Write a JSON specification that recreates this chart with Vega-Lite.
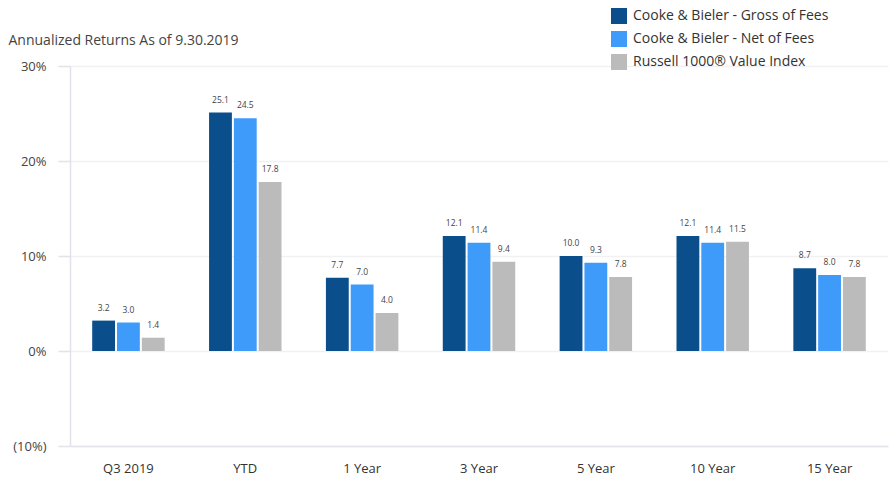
{
  "$schema": "https://vega.github.io/schema/vega-lite/v6.json",
  "width": 818,
  "height": 380,
  "autosize": "none",
  "padding": {"left": 70, "top": 66, "right": 2, "bottom": 32},
  "background": "white",
  "config": {
    "font": "Open Sans",
    "view": {"stroke": null}
  },
  "data": {
    "values": [
      {"period": "Q3 2019", "series": "Cooke & Bieler - Gross of Fees", "value": 3.2},
      {"period": "Q3 2019", "series": "Cooke & Bieler - Net of Fees", "value": 3.0},
      {"period": "Q3 2019", "series": "Russell 1000® Value Index", "value": 1.4},
      {"period": "YTD", "series": "Cooke & Bieler - Gross of Fees", "value": 25.1},
      {"period": "YTD", "series": "Cooke & Bieler - Net of Fees", "value": 24.5},
      {"period": "YTD", "series": "Russell 1000® Value Index", "value": 17.8},
      {"period": "1 Year", "series": "Cooke & Bieler - Gross of Fees", "value": 7.7},
      {"period": "1 Year", "series": "Cooke & Bieler - Net of Fees", "value": 7.0},
      {"period": "1 Year", "series": "Russell 1000® Value Index", "value": 4.0},
      {"period": "3 Year", "series": "Cooke & Bieler - Gross of Fees", "value": 12.1},
      {"period": "3 Year", "series": "Cooke & Bieler - Net of Fees", "value": 11.4},
      {"period": "3 Year", "series": "Russell 1000® Value Index", "value": 9.4},
      {"period": "5 Year", "series": "Cooke & Bieler - Gross of Fees", "value": 10.0},
      {"period": "5 Year", "series": "Cooke & Bieler - Net of Fees", "value": 9.3},
      {"period": "5 Year", "series": "Russell 1000® Value Index", "value": 7.8},
      {"period": "10 Year", "series": "Cooke & Bieler - Gross of Fees", "value": 12.1},
      {"period": "10 Year", "series": "Cooke & Bieler - Net of Fees", "value": 11.4},
      {"period": "10 Year", "series": "Russell 1000® Value Index", "value": 11.5},
      {"period": "15 Year", "series": "Cooke & Bieler - Gross of Fees", "value": 8.7},
      {"period": "15 Year", "series": "Cooke & Bieler - Net of Fees", "value": 8.0},
      {"period": "15 Year", "series": "Russell 1000® Value Index", "value": 7.8}
    ]
  },
  "encoding": {
    "x": {
      "field": "period",
      "type": "nominal",
      "sort": ["Q3 2019", "YTD", "1 Year", "3 Year", "5 Year", "10 Year", "15 Year"],
      "scale": {"paddingInner": 0.38, "paddingOuter": 0.19},
      "axis": {
        "title": null,
        "labelAngle": 0,
        "ticks": false,
        "domain": true,
        "domainColor": "#e2e2ea",
        "domainWidth": 1.5,
        "labelFontSize": 13,
        "labelColor": "#333333",
        "labelPadding": 16,
        "labelFont": "Open Sans"
      }
    },
    "xOffset": {
      "field": "series",
      "type": "nominal",
      "scale": {"paddingInner": 0.08}
    },
    "y": {
      "field": "value",
      "type": "quantitative",
      "scale": {"domain": [-10, 30], "nice": false},
      "axis": {
        "title": "Annualized Returns As of 9.30.2019",
        "titleAngle": 0,
        "titleX": -62,
        "titleY": -22,
        "titleAlign": "left",
        "titleBaseline": "alphabetic",
        "titleFontSize": 14,
        "titleFontWeight": "normal",
        "titleColor": "#444444",
        "titleFont": "Open Sans",
        "values": [-10, 0, 10, 20, 30],
        "labelExpr": "datum.value < 0 ? '(' + abs(datum.value) + '%)' : datum.value + '%'",
        "grid": true,
        "gridColor": "#f1f1f4",
        "gridWidth": 1.5,
        "domain": true,
        "domainColor": "#e2e2ea",
        "domainWidth": 1.5,
        "ticks": true,
        "tickColor": "#e2e2ea",
        "tickSize": 12,
        "tickWidth": 1.5,
        "labelFontSize": 13,
        "labelColor": "#444444",
        "labelPadding": 12,
        "labelFont": "Open Sans"
      }
    }
  },
  "layer": [
    {
      "mark": {"type": "bar"},
      "encoding": {
        "color": {
          "field": "series",
          "type": "nominal",
          "scale": {
            "domain": ["Cooke & Bieler - Gross of Fees", "Cooke & Bieler - Net of Fees", "Russell 1000® Value Index"],
            "range": ["#0a4f8c", "#3f9bfa", "#bbbbbb"]
          },
          "legend": {
            "title": null,
            "orient": "none",
            "legendX": 541,
            "legendY": -58,
            "symbolType": "square",
            "symbolSize": 256,
            "symbolStrokeWidth": 0,
            "labelFontSize": 14,
            "labelColor": "#333333",
            "labelFont": "Open Sans",
            "labelOffset": 6,
            "rowPadding": 7,
            "labelLimit": 300
          }
        }
      }
    },
    {
      "mark": {"type": "text", "baseline": "bottom", "dy": -8, "fontSize": 8.5, "color": "#444444", "font": "Open Sans"},
      "encoding": {
        "text": {"field": "value", "type": "quantitative", "format": ".1f"}
      }
    }
  ]
}
